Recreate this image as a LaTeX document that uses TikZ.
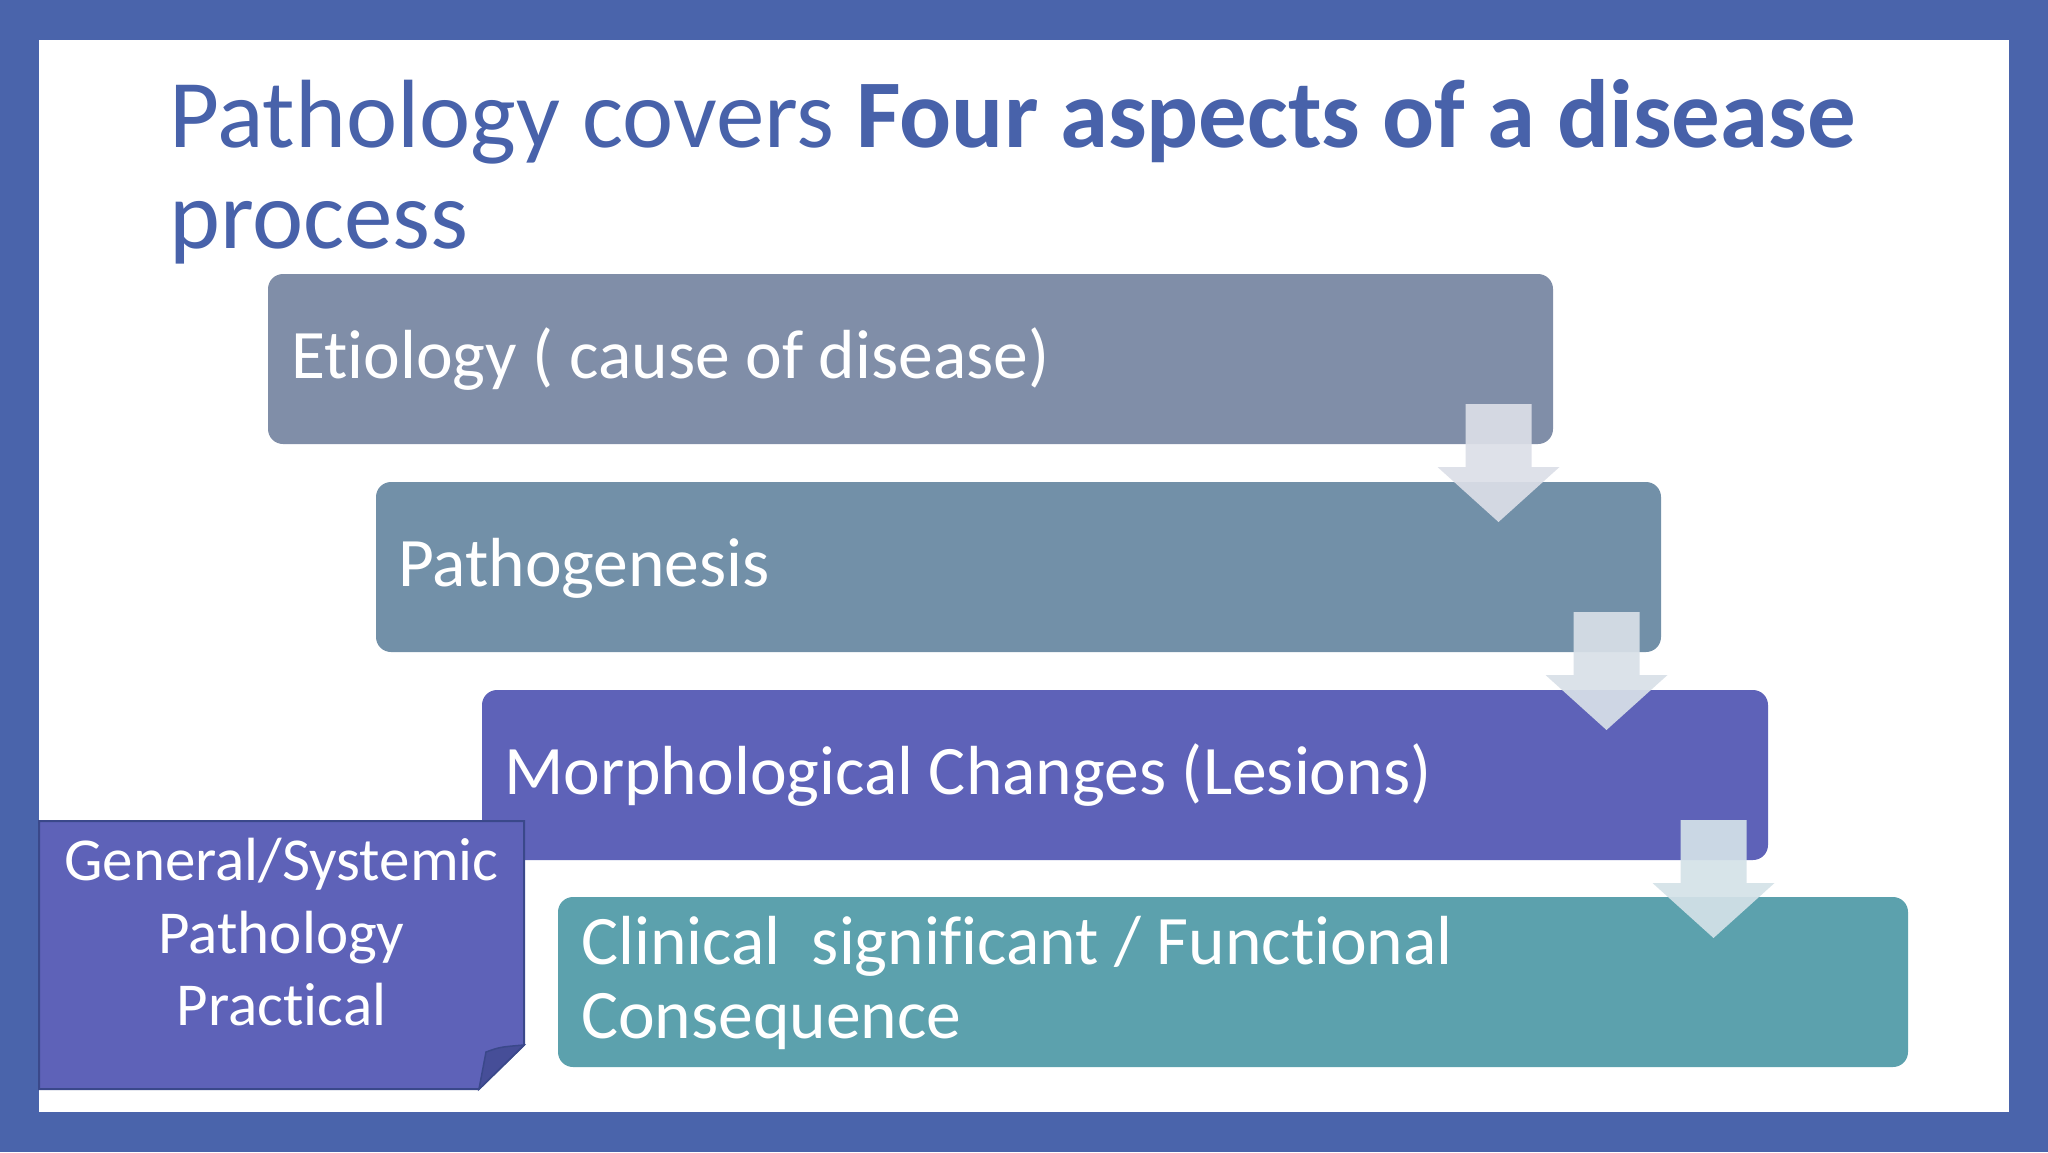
\documentclass[tikz,border=0pt]{standalone}
\usepackage{fontspec}
\setmainfont{Carlito}[Ligatures=NoCommon]
\usetikzlibrary{calc}
\definecolor{frame}{RGB}{74,100,171}
\definecolor{titleblue}{RGB}{72,98,170}
\definecolor{boxA}{RGB}{128,142,168}
\definecolor{boxB}{RGB}{114,144,168}
\definecolor{boxC}{RGB}{94,98,184}
\definecolor{boxD}{RGB}{92,161,173}
\definecolor{arrA}{RGB}{220,223,232}
\definecolor{arrB}{RGB}{216,224,232}
\definecolor{arrC}{RGB}{212,226,232}
\definecolor{noteline}{RGB}{58,72,138}
\definecolor{notefold}{RGB}{70,78,152}
\begin{document}
\begin{tikzpicture}[x=1pt,y=-1pt,
  stepbox/.style={rounded corners=15pt, inner sep=0pt, outer sep=0pt, anchor=north west, minimum height=170pt},
  boxtext/.style={anchor=base west, text=white, inner sep=0pt, font=\fontsize{69.5}{74}\selectfont},
  notetext/.style={anchor=base, text=white, inner sep=0pt, font=\fontsize{61}{72}\selectfont},
  titletext/.style={anchor=base west, text=titleblue, inner sep=0pt, font=\fontsize{97}{101}\selectfont},
  blockarrow/.style={opacity=0.92}
]
\useasboundingbox (0,0) rectangle (2048,1152);
\fill[frame] (0,0) rectangle (2048,1152);
\fill[white] (39,40) rectangle (2009,1112);

% title
\node[titletext] (title1) at (169,147) {Pathology covers \textbf{Four aspects of a disease}};
\node[titletext] (title2) at (169,248) {process};

% step boxes
\node[stepbox, fill=boxA, minimum width=1285pt] (b1) at (268,274) {};
\node[stepbox, fill=boxB, minimum width=1285pt] (b2) at (376,482) {};
\node[stepbox, fill=boxC, minimum width=1286pt] (b3) at (482,690) {};
\node[stepbox, fill=boxD, minimum width=1350pt] (b4) at (558,897) {};

\node[boxtext] (t1) at (291,378) {Etiology ( cause of disease)};
\node[boxtext] (t2) at (398,586) {Pathogenesis};
\node[boxtext] (t3) at (504,794) {Morphological Changes (Lesions)};
\node[boxtext] (t4) at (581,964) {Clinical\ \ significant / Functional};
\node[boxtext] (t4b) at (581,1038) {Consequence};

% block arrows between boxes
\foreach \src/\col in {b1/arrA, b2/arrB, b3/arrC}{
  \begin{scope}[shift={(\src.south east)}]
    \fill[\col, blockarrow] (-87.5,-40) -- (-21.5,-40) -- (-21.5,23) -- (6.5,23)
      -- (-54.5,78) -- (-115.5,23) -- (-87.5,23) -- cycle;
  \end{scope}
}

% sticky note
\fill[boxC, draw=noteline, line width=2pt]
  (39,821) -- (524,821) -- (524,1045) -- (479,1089) -- (39,1089) -- cycle;
\fill[notefold, draw=noteline, line width=1.5pt]
  (524,1045) .. controls (500,1047) .. (486,1052) -- (479,1089) -- cycle;
\node[notetext] (n1) at (281.5,880) {General/Systemic};
\node[notetext] (n2) at (281.5,953) {Pathology};
\node[notetext] (n3) at (281.5,1025) {Practical};
\end{tikzpicture}
\end{document}
